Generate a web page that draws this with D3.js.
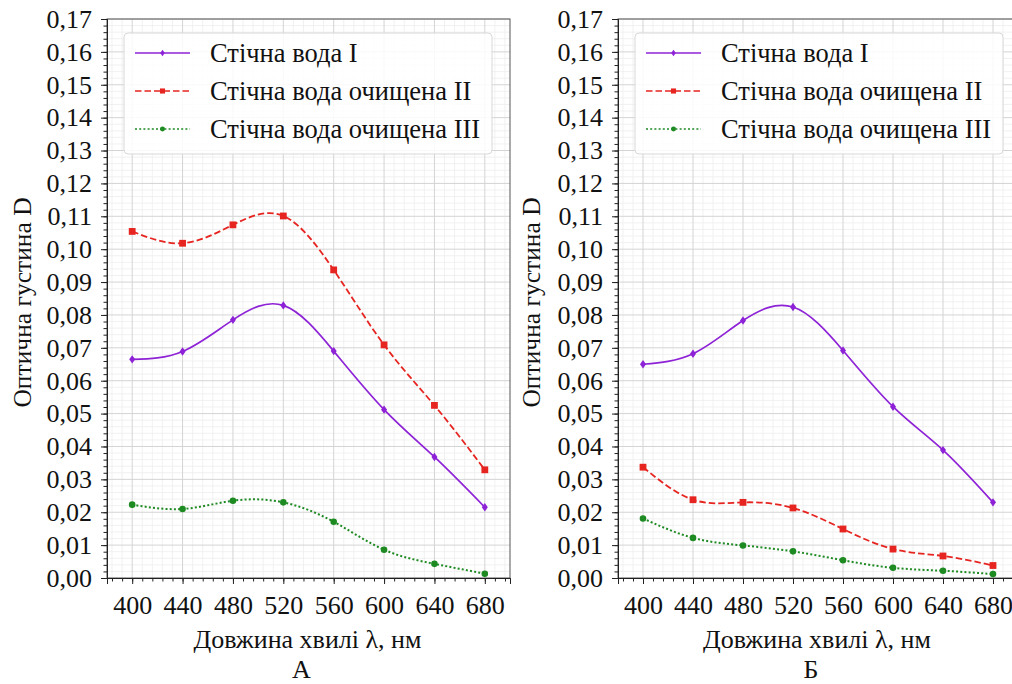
<!DOCTYPE html>
<html><head><meta charset="utf-8">
<script src="https://cdn.jsdelivr.net/npm/d3@7"></script>
<style>body{margin:0;background:#fff;overflow:hidden} svg text{font-family:"Liberation Serif","Times New Roman",serif !important;}</style>
</head><body>
<svg id="c" width="1012" height="684"></svg>
<script>
const wavelengths = [400, 440, 480, 520, 560, 600, 640, 680];
const seriesNames = ["Стічна вода I", "Стічна вода очищена II", "Стічна вода очищена III"];
const panelA_I   = [0.0665, 0.0689, 0.0785, 0.0829, 0.0690, 0.0512, 0.0368, 0.0215];
const panelA_II  = [0.1054, 0.1018, 0.1074, 0.1101, 0.0937, 0.0709, 0.0525, 0.0329];
const panelA_III = [0.0223, 0.0210, 0.0235, 0.0230, 0.0171, 0.0086, 0.0043, 0.0013];
const panelB_I   = [0.0650, 0.0682, 0.0783, 0.0824, 0.0692, 0.0521, 0.0389, 0.0230];
const panelB_II  = [0.0337, 0.0238, 0.0230, 0.0213, 0.0149, 0.0088, 0.0067, 0.0038];
const panelB_III = [0.0181, 0.0122, 0.0099, 0.0081, 0.0054, 0.0031, 0.0022, 0.0012];
const xTicks = [400, 440, 480, 520, 560, 600, 640, 680];
const yTicks = [0,0.01,0.02,0.03,0.04,0.05,0.06,0.07,0.08,0.09,0.10,0.11,0.12,0.13,0.14,0.15,0.16,0.17];
const panelLetters = ["А", "Б"];
const xLabel = "Довжина хвилі λ, нм";
const yLabel = "Оптична густина D";

const colors = ["#8e22d6", "#e62420", "#1d8a22"];
const dashes = [null, "6.5,3", "2,2.2"];
const widths = [1.7, 1.8, 2.0];
const font = "Liberation Serif";

const svg = d3.select("#c");
svg.append("rect").attr("width",1012).attr("height",684).attr("fill","#fff");

const panels = [
  {x0:107, x1:510, data:[panelA_I, panelA_II, panelA_III], letter:panelLetters[0], yl:22},
  {x0:618, x1:1018, data:[panelB_I, panelB_II, panelB_III], letter:panelLetters[1], yl:531}
];
const plotTop = 19, plotBottom = 578;
const fmt = v => d3.format(".2f")(v).replace(".", ",");

function drawMarkers(g, pts, si, k = 1) {
  if (si === 0) {
    g.append("g").selectAll("path").data(pts).join("path")
      .attr("d", d => `M${d[0]},${d[1] - 4.2 * k}L${d[0] + 3 * k},${d[1]}L${d[0]},${d[1] + 4.2 * k}L${d[0] - 3 * k},${d[1]}Z`)
      .attr("fill", colors[0]);
  } else if (si === 1) {
    g.append("g").selectAll("rect").data(pts).join("rect")
      .attr("x", d => d[0] - 3.4 * k).attr("y", d => d[1] - 3.4 * k).attr("width", 6.8 * k).attr("height", 6.8 * k)
      .attr("fill", colors[1]);
  } else {
    g.append("g").selectAll("circle").data(pts).join("circle")
      .attr("cx", d => d[0]).attr("cy", d => d[1]).attr("r", 3.3 * k).attr("fill", colors[2]);
  }
}

panels.forEach((p, pi) => {
  const x = d3.scaleLinear().domain([380, 700]).range([p.x0, p.x1]);
  const y = d3.scaleLinear().domain([0, 0.17]).range([plotBottom, plotTop]);
  const g = svg.append("g");

  // minor grid
  const xMinor = d3.range(384, 700, 8).filter(v => (v - 400) % 40 !== 0);
  const yMinor = d3.range(1, 85).filter(i => i % 5 !== 0).map(i => i * 0.002);
  g.append("g").selectAll("line").data(xMinor).join("line")
    .attr("x1", d => x(d)).attr("x2", d => x(d)).attr("y1", plotTop).attr("y2", plotBottom)
    .attr("stroke", "#ededed").attr("stroke-width", 0.8);
  g.append("g").selectAll("line").data(yMinor).join("line")
    .attr("y1", d => y(d)).attr("y2", d => y(d)).attr("x1", p.x0).attr("x2", p.x1)
    .attr("stroke", "#ededed").attr("stroke-width", 0.8);
  // major grid
  g.append("g").selectAll("line").data(xTicks).join("line")
    .attr("x1", d => x(d)).attr("x2", d => x(d)).attr("y1", plotTop).attr("y2", plotBottom)
    .attr("stroke", "#d4d4d4").attr("stroke-width", 1);
  g.append("g").selectAll("line").data(yTicks.slice(1)).join("line")
    .attr("y1", d => y(d)).attr("y2", d => y(d)).attr("x1", p.x0).attr("x2", p.x1)
    .attr("stroke", "#d4d4d4").attr("stroke-width", 1);

  // frame
  g.append("rect").attr("x", p.x0).attr("y", plotTop).attr("width", p.x1 - p.x0).attr("height", plotBottom - plotTop)
    .attr("fill", "none").attr("stroke", "#555").attr("stroke-width", 1);

  // axes
  const xAxis = d3.axisBottom(x).tickValues(xTicks).tickSize(6).tickPadding(12).tickFormat(d3.format("d"));
  const xAxisMinor = d3.axisBottom(x).tickValues(d3.range(384, 700, 8)).tickSize(3.5).tickFormat("");
  const yAxis = d3.axisLeft(y).tickValues(yTicks).tickSize(6).tickPadding(9).tickFormat(fmt);
  const yAxisMinor = d3.axisLeft(y).tickValues(d3.range(0, 86).map(i => i * 0.002).filter(v => v <= 0.1701)).tickSize(3.5).tickFormat("");

  [xAxisMinor, xAxis].forEach(a => {
    const ga = g.append("g").attr("transform", `translate(0,${plotBottom})`).call(a).attr("font-family", font);
    ga.select(".domain").attr("stroke", "#222");
    ga.selectAll(".tick line").attr("stroke", "#222");
    ga.selectAll("text").attr("font-size", 26).attr("fill", "#111");
  });
  [yAxisMinor, yAxis].forEach(a => {
    const ga = g.append("g").attr("transform", `translate(${p.x0},0)`).call(a).attr("font-family", font);
    ga.select(".domain").attr("stroke", "#222");
    ga.selectAll(".tick line").attr("stroke", "#222");
    ga.selectAll("text").attr("font-size", 26).attr("fill", "#111");
  });

  // labels
  svg.append("text").attr("x", (p.x0 + p.x1) / 2 - 1).attr("y", 648)
    .attr("text-anchor", "middle").attr("font-size", 26).attr("fill", "#111")
    .text(xLabel);
  svg.append("text").attr("x", (p.x0 + p.x1) / 2 - 7).attr("y", 678)
    .attr("text-anchor", "middle").attr("font-size", 26).attr("fill", "#111")
    .text(p.letter);
  svg.append("text").attr("transform", `translate(${p.yl},${(plotTop + plotBottom) / 2 + 4}) rotate(-90)`)
    .attr("text-anchor", "middle").attr("dy", "0.35em").attr("font-size", 25.5).attr("fill", "#111")
    .text(yLabel);

  // series
  const line = d3.line().x((d, i) => x(wavelengths[i])).y(d => y(d)).curve(d3.curveNatural);
  p.data.forEach((vals, si) => {
    g.append("path").attr("d", line(vals)).attr("fill", "none")
      .attr("stroke", colors[si]).attr("stroke-width", widths[si])
      .attr("stroke-dasharray", dashes[si]);
    drawMarkers(g, vals.map((v, i) => [x(wavelengths[i]), y(v)]), si);
  });

  // legend
  const lx = p.x0 + 17, ly = 33, lw = 368, lh = 121;
  const lg = svg.append("g");
  lg.append("rect").attr("x", lx).attr("y", ly).attr("width", lw).attr("height", lh).attr("rx", 4)
    .attr("fill", "#fff").attr("fill-opacity", 0.85).attr("stroke", "#d8d8d8");
  seriesNames.forEach((name, si) => {
    const ry = ly + 20 + si * 38;
    lg.append("line").attr("x1", lx + 11).attr("x2", lx + 66).attr("y1", ry).attr("y2", ry)
      .attr("stroke", colors[si]).attr("stroke-width", widths[si] * 0.85).attr("stroke-dasharray", dashes[si]);
    drawMarkers(lg, [[lx + 38.5, ry]], si, 0.75);
    lg.append("text").attr("x", lx + 86).attr("y", ry).attr("dy", "0.35em")
      .attr("font-size", 26.5).attr("fill", "#111").text(name);
  });
});
</script>
</body></html>
